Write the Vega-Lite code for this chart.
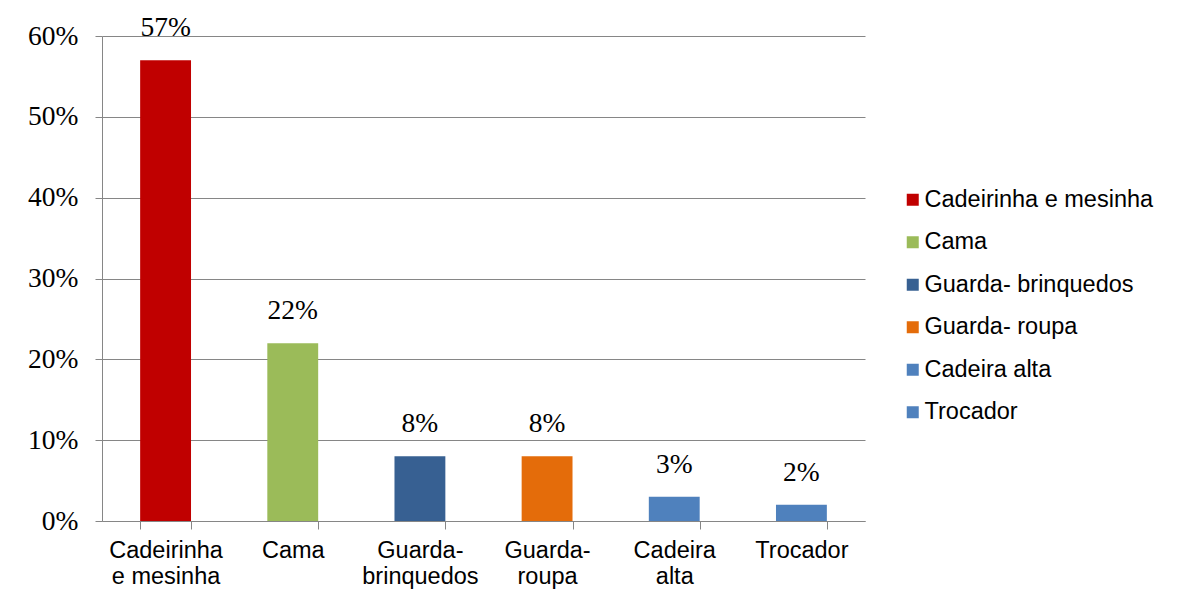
{
  "$schema": "https://vega.github.io/schema/vega-lite/v6.json",
  "width": 763,
  "height": 485,
  "autosize": {"type": "none"},
  "padding": {"left": 102, "top": 36, "right": 320, "bottom": 83},
  "background": "white",
  "data": {
    "values": [
      {"item": "Cadeirinha e mesinha", "pct": 0.57},
      {"item": "Cama", "pct": 0.22},
      {"item": "Guarda- brinquedos", "pct": 0.08},
      {"item": "Guarda- roupa", "pct": 0.08},
      {"item": "Cadeira alta", "pct": 0.03},
      {"item": "Trocador", "pct": 0.02}
    ]
  },
  "encoding": {
    "x": {
      "field": "item",
      "type": "nominal",
      "sort": null,
      "scale": {"paddingInner": 0.6, "paddingOuter": 0.3},
      "axis": {
        "title": null,
        "labelAngle": 0,
        "labelFont": "Liberation Sans",
        "labelFontSize": 23.5,
        "labelColor": "#000000",
        "labelPadding": 9,
        "labelLineHeight": 26,
        "labelExpr": "datum.label == 'Cadeirinha e mesinha' ? ['Cadeirinha', 'e mesinha'] : datum.label == 'Guarda- brinquedos' ? ['Guarda-', 'brinquedos'] : datum.label == 'Guarda- roupa' ? ['Guarda-', 'roupa'] : datum.label == 'Cadeira alta' ? ['Cadeira', 'alta'] : datum.label",
        "tickBand": "extent",
        "tickSize": 8,
        "tickColor": "#868686",
        "domainColor": "#868686",
        "grid": false
      }
    },
    "y": {
      "field": "pct",
      "type": "quantitative",
      "scale": {"domain": [0, 0.6], "nice": false},
      "axis": {
        "title": null,
        "format": ".0%",
        "values": [0, 0.1, 0.2, 0.3, 0.4, 0.5, 0.6],
        "labelFont": "Liberation Serif",
        "labelFontSize": 27.5,
        "labelColor": "#000000",
        "labelPadding": 17,
        "tickSize": 7,
        "tickColor": "#868686",
        "domainColor": "#868686",
        "grid": true,
        "gridColor": "#868686",
        "gridWidth": 1
      }
    }
  },
  "layer": [
    {
      "mark": {"type": "bar"},
      "encoding": {
        "color": {
          "field": "item",
          "type": "nominal",
          "sort": null,
          "scale": {
            "domain": ["Cadeirinha e mesinha", "Cama", "Guarda- brinquedos", "Guarda- roupa", "Cadeira alta", "Trocador"],
            "range": ["#C00000", "#9BBB59", "#376092", "#E46C0A", "#4F81BD", "#4F81BD"]
          },
          "legend": {
            "title": null,
            "orient": "none",
            "legendX": 799,
            "legendY": 152,
            "symbolType": "square",
            "symbolSize": 144,
            "symbolStrokeWidth": 0,
            "labelFont": "Liberation Sans",
            "labelFontSize": 23.5,
            "labelColor": "#000000",
            "labelOffset": 0,
            "rowPadding": 17.5,
            "padding": 0,
            "labelLimit": 400
          }
        }
      }
    },
    {
      "mark": {"type": "text", "baseline": "bottom", "dy": -18, "font": "Liberation Serif", "fontSize": 27.5, "color": "#000000"},
      "encoding": {
        "text": {"field": "pct", "type": "quantitative", "format": ".0%"}
      }
    }
  ],
  "config": {
    "view": {"stroke": null},
    "axis": {"ticks": true}
  }
}
